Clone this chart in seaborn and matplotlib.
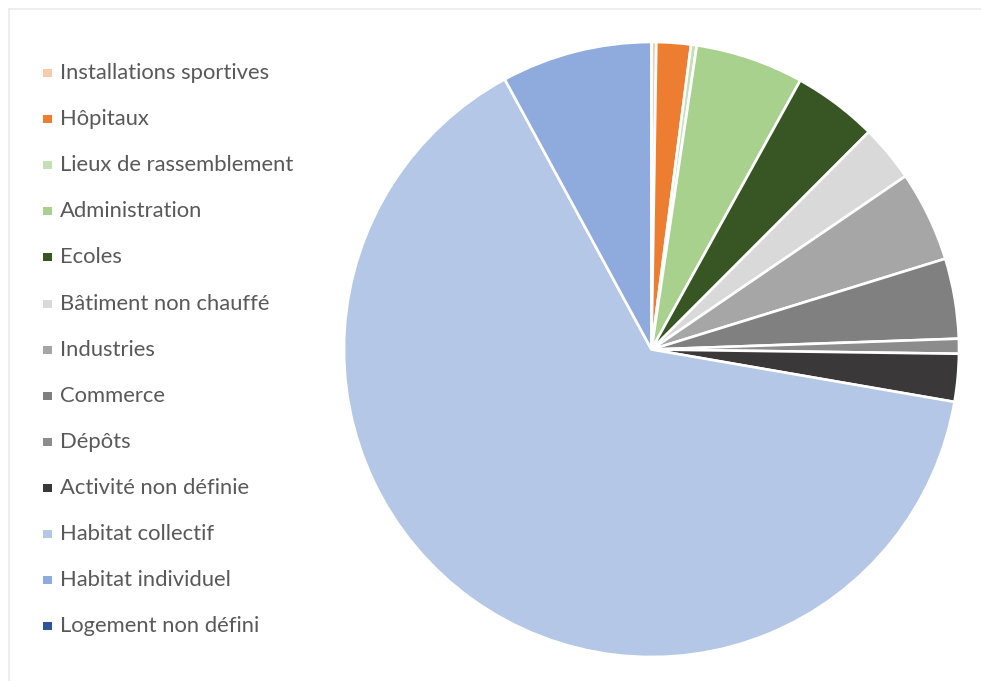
import matplotlib
matplotlib.use("Agg")
import matplotlib.pyplot as plt
from matplotlib.patches import Rectangle
import seaborn as sns

sns.set_theme(style="white")
plt.rcParams["font.family"] = ["Lato", "DejaVu Sans"]

categories = [
    "Installations sportives",
    "Hôpitaux",
    "Lieux de rassemblement",
    "Administration",
    "Ecoles",
    "Bâtiment non chauffé",
    "Industries",
    "Commerce",
    "Dépôts",
    "Activité non définie",
    "Habitat collectif",
    "Habitat individuel",
    "Logement non défini",
]
shares = [0.25, 1.8, 0.3, 5.67, 4.44, 2.97, 4.75, 4.2, 0.78, 2.5, 64.2, 7.9, 0.0]
colors = [
    "#F8CBAD", "#ED7D31", "#C5E0B4", "#A9D18E", "#375623", "#D9D9D9",
    "#A6A6A6", "#808080", "#8C8C8C", "#3A3838", "#B4C7E7", "#8FAADC", "#2F5597",
]
palette = sns.color_palette(colors)

W, H = 981, 681
fig = plt.figure(figsize=(W / 100, H / 100), dpi=100)
fig.patch.set_facecolor("white")

# frame lines along the left and top edges
fig.add_artist(plt.Line2D([8.5 / W, 8.5 / W], [0, 1 - 9 / H], transform=fig.transFigure,
                          color="#EBEBEB", lw=1.2))
fig.add_artist(plt.Line2D([8.5 / W, 1], [1 - 9 / H, 1 - 9 / H], transform=fig.transFigure,
                          color="#EBEBEB", lw=1.2))

# pie
cx, cy, r = 651.5, 349.5, 307.5
ax = fig.add_axes([(cx - r) / W, (H - cy - r) / H, 2 * r / W, 2 * r / H])
ax.pie(shares, colors=palette, startangle=90, counterclock=False, radius=1,
       wedgeprops=dict(edgecolor="white", linewidth=1.9))
ax.set_xlim(-1, 1)
ax.set_ylim(-1, 1)
ax.set_axis_off()

# legend column
y0, step = 73, 46.1
for i, (lab, col) in enumerate(zip(categories, palette)):
    y = y0 + step * i
    fig.add_artist(Rectangle((43 / W, 1 - (y + 4) / H), 9 / W, 8 / H,
                             transform=fig.transFigure, facecolor=col, edgecolor="none"))
    fig.text(60 / W, 1 - y / H, lab, ha="left", va="center", fontsize=15.8,
             color="#595959")

fig.savefig("out.png", dpi=100, facecolor="white")
